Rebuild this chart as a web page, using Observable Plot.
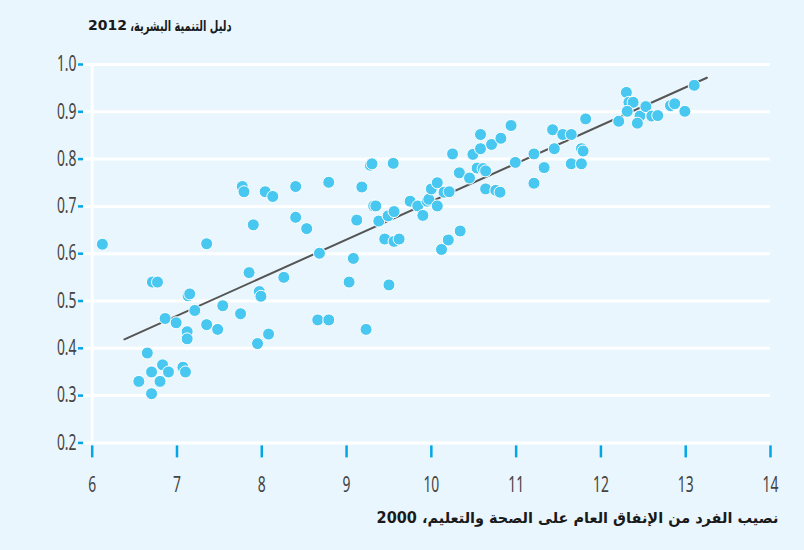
<!DOCTYPE html>
<html>
<head>
<meta charset="utf-8">
<script src="https://cdn.jsdelivr.net/npm/d3@7"></script>
<script src="https://cdn.jsdelivr.net/npm/@observablehq/plot@0.6"></script>
<style>
  html, body { margin: 0; padding: 0; background: #e9f6fd; }
  body { width: 804px; height: 550px; overflow: hidden; }
  #title { position: relative; height: 50px; }
  #title .ar { position: absolute; right: 572px; top: 17px; line-height: 20px;
    font: bold 15px "DejaVu Sans", sans-serif; direction: rtl; color: #1a1a1a; white-space: nowrap;
    transform: scaleX(0.66); transform-origin: right center; }
  #title .num { position: absolute; left: 88px; top: 17px; line-height: 20px;
    font: bold 14px "DejaVu Sans", sans-serif; color: #1a1a1a; white-space: nowrap; }
  #chart { height: 455px; }
  #chart svg { display: block; }
  #xlabel { position: relative; height: 45px; }
  #xlabel span { position: absolute; right: 26px; top: 4px; line-height: 20px;
    font: bold 15px "DejaVu Sans", sans-serif; direction: rtl; color: #1a1a1a; white-space: nowrap;
    transform: scaleX(0.965); transform-origin: right center; }
</style>
</head>
<body>
<div id="title"><span class="ar">دليل التنمية البشرية،</span><span class="num">2012</span></div>
<div id="chart"></div>
<div id="xlabel"><span>نصيب الفرد من الإنفاق العام على الصحة والتعليم، 2000</span></div>
<script>
// Per-capita public spending on health and education, 2000 (log scale values)
const spending = [
  6.12, 6.71, 6.77, 6.86, 6.99, 7.13, 7.15, 7.21, 7.12, 7.12,
  7.35, 7.48, 7.54, 7.35, 7.75, 7.85, 7.97, 7.99, 7.95, 8.08,
  8.26, 8.66, 8.79, 9.03, 6.65, 6.55, 6.70, 6.70, 6.80, 6.83,
  6.90, 7.07, 7.10, 9.23, 9.50,
  7.77, 7.79, 8.04, 8.13, 8.40, 8.79, 7.90, 8.40, 8.53, 8.68,
  9.08, 9.12, 9.18, 9.28, 9.30, 9.55, 9.32, 9.345, 9.38, 9.45,
  9.56, 9.62, 9.49, 9.56, 9.75, 9.84, 9.90, 9.95, 9.97, 10.00,
  10.07, 10.07, 10.15, 10.21, 10.12, 10.20, 10.34, 10.25, 10.33, 10.45,
  10.49, 10.54, 10.61, 10.64, 10.58, 10.58, 10.64, 10.71, 10.76, 10.81,
  10.82, 10.94, 10.99, 11.21, 11.21, 11.33, 11.43, 11.45, 11.55, 11.65,
  11.65, 11.77, 11.77, 11.79, 11.82, 12.21, 12.30, 12.33, 12.38, 12.31,
  12.46, 12.43, 12.53, 12.60, 12.67, 12.82, 12.87, 12.99, 13.10
];
// Human Development Index, 2012
const hdi = [
  0.620, 0.540, 0.540, 0.463, 0.454, 0.511, 0.515, 0.480, 0.435, 0.420,
  0.450, 0.440, 0.490, 0.621, 0.473, 0.560, 0.520, 0.510, 0.410, 0.430,
  0.550, 0.460, 0.460, 0.540, 0.390, 0.330, 0.350, 0.304, 0.330, 0.365,
  0.350, 0.360, 0.350, 0.440, 0.534,
  0.742, 0.731, 0.731, 0.721, 0.742, 0.751, 0.661, 0.677, 0.653, 0.601,
  0.590, 0.671, 0.741, 0.787, 0.790, 0.791, 0.701, 0.701, 0.669, 0.631,
  0.626, 0.631, 0.680, 0.689, 0.711, 0.701, 0.681, 0.711, 0.715, 0.737,
  0.750, 0.701, 0.730, 0.731, 0.609, 0.629, 0.648, 0.811, 0.771, 0.760,
  0.810, 0.781, 0.780, 0.775, 0.822, 0.852, 0.737, 0.831, 0.734, 0.730,
  0.844, 0.871, 0.793, 0.811, 0.749, 0.782, 0.862, 0.822, 0.852, 0.852,
  0.790, 0.790, 0.822, 0.817, 0.885, 0.880, 0.941, 0.920, 0.920, 0.901,
  0.891, 0.876, 0.911, 0.891, 0.892, 0.913, 0.917, 0.901, 0.956
];
// Fitted trend line end points
const trendX = [6.38, 13.25];
const trendY = [0.419, 0.972];
// Axis ticks
const xTicks = [6, 7, 8, 9, 10, 11, 12, 13, 14];
const yTicks = [0.2, 0.3, 0.4, 0.5, 0.6, 0.7, 0.8, 0.9, 1.0];

const points = spending.map((x, i) => ({x, y: hdi[i]}));
const trend = trendX.map((x, i) => ({x, y: trendY[i]}));

const blue = "#00a6e6";
const chart = Plot.plot({
  width: 804,
  height: 455,
  marginTop: 14,
  marginBottom: 62.6,
  marginLeft: 83,
  marginRight: 34,
  style: {
    background: "transparent",
    fontFamily: "'Noto Sans', sans-serif",
    fontSize: "21px",
    color: "#444"
  },
  x: {domain: [6, 14], insetLeft: 8.7, label: null},
  y: {domain: [0.2, 1.0], label: null},
  marks: [
    Plot.ruleY(yTicks, {stroke: "white", strokeWidth: 3}),
    Plot.ruleX([6], {stroke: "white", strokeWidth: 3}),
    Plot.axisY({ticks: yTicks, tickSize: 5, tickPadding: 2, stroke: blue, strokeWidth: 2.5,
      fill: "#444", tickFormat: d3.format(".1f"), label: null}),
    Plot.axisX({ticks: xTicks, tickSize: 12, tickPadding: 19, dy: 3, stroke: blue, strokeWidth: 2.5,
      fill: "#444", tickFormat: d3.format("d"), label: null}),
    Plot.line(trend, {x: "x", y: "y", stroke: "#555555", strokeWidth: 2}),
    Plot.dot(points, {x: "x", y: "y", r: 6, fill: "#48c7f1", stroke: "white", strokeWidth: 1})
  ]
});
document.getElementById("chart").appendChild(chart);
// condense the tick label glyphs to match the narrow face of the original
chart.querySelectorAll('g[aria-label$="tick label"] text').forEach(t => {
  const len = t.getComputedTextLength();
  t.setAttribute("textLength", (len * 0.66).toFixed(2));
  t.setAttribute("lengthAdjust", "spacingAndGlyphs");
});
</script>
</body>
</html>
